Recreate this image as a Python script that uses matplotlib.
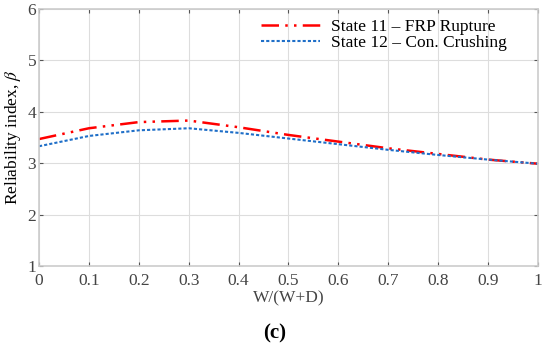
import matplotlib.pyplot as plt
import numpy as np

plt.rcParams['font.family'] = ['Liberation Serif', 'DejaVu Serif']
plt.rcParams['mathtext.fontset'] = 'stix'

x = [0.0, 0.1, 0.2, 0.3, 0.4, 0.5, 0.6, 0.7, 0.8, 0.9, 1.0]
state11 = [3.47, 3.68, 3.80, 3.83, 3.70, 3.55, 3.42, 3.29, 3.18, 3.07, 2.99]
state12 = [3.33, 3.53, 3.64, 3.68, 3.59, 3.48, 3.37, 3.26, 3.16, 3.07, 2.99]

fig = plt.figure(figsize=(5.5, 3.49), dpi=100)
ax = fig.add_axes([0.071, 0.238, 0.907, 0.736])

ax.plot(x, state11, color='red', linewidth=1.8, dashes=(7, 2.5, 1, 2.5, 1, 2.5),
        label='State 11 – FRP Rupture')
ax.plot(x, state12, color='#1f6fc8', linewidth=1.5, dashes=(1.5, 1),
        label='State 12 – Con. Crushing')

ax.set_xlim(0, 1)
ax.set_ylim(1, 6)
ax.set_xticks(np.arange(0, 1.01, 0.1))
ax.set_xticklabels(['0', '0.1', '0.2', '0.3', '0.4', '0.5', '0.6', '0.7', '0.8', '0.9', '1'])
ax.set_yticks([1, 2, 3, 4, 5, 6])
ax.grid(True, color='#dddddd', linewidth=0.8)
ax.tick_params(direction='in', top=True, right=True, length=3, color='#555555',
               labelsize=12.5, labelcolor='#444444')
ax.tick_params(axis='x', pad=5)
ax.tick_params(axis='y', pad=2)
for s in ax.spines.values():
    s.set_color('#cccccc')
    s.set_linewidth(1.2)

ax.set_xlabel('W/(W+D)', fontsize=12.5, color='#444444', labelpad=1)
ax.set_ylabel(r'Reliability index, $\beta$', fontsize=12.5, labelpad=3)

ax.legend(loc='upper right', bbox_to_anchor=(0.962, 1.01), frameon=False, fontsize=12.5,
          handlelength=3.4, borderaxespad=0.3, labelspacing=0.0, handletextpad=0.6)

fig.text(0.5, 0.045, '(c)', ha='center', va='center', fontsize=15, fontweight='bold')

plt.savefig('out.png')
